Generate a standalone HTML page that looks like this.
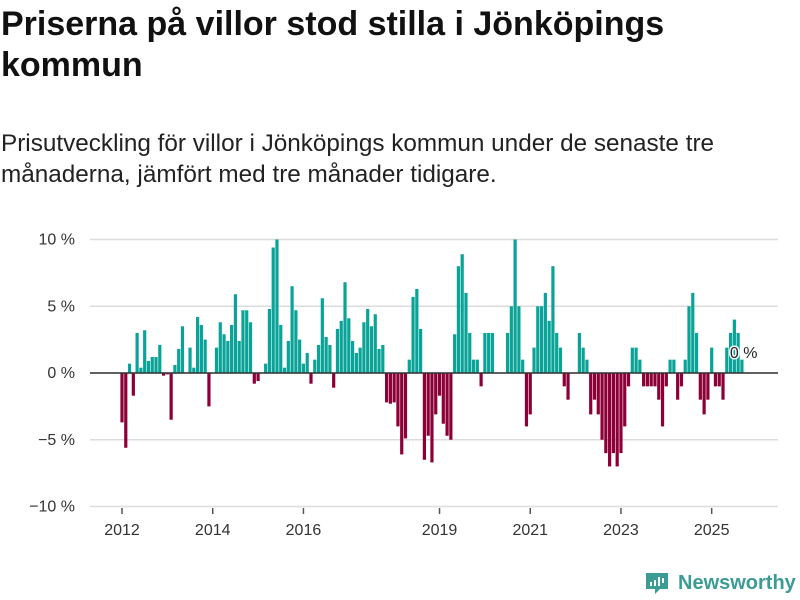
<!DOCTYPE html>
<html><head><meta charset="utf-8"><style>
body{margin:0;width:800px;height:600px;background:#fff;font-family:"Liberation Sans",sans-serif;overflow:hidden;position:relative}
h1{position:absolute;left:1px;top:4px;margin:0;font-size:34px;line-height:41px;font-weight:bold;color:#111;width:700px}
p.sub{position:absolute;left:1px;top:128px;margin:0;font-size:24.3px;line-height:31px;color:#222;width:760px}
svg{position:absolute;left:0;top:0}
</style></head><body>
<h1>Priserna på villor stod stilla i Jönköpings kommun</h1>
<p class="sub">Prisutveckling för villor i Jönköpings kommun under de senaste tre<br>månaderna, jämfört med tre månader tidigare.</p>
<svg id="chart" width="800" height="600"></svg>
<script>
const startYear = 2012;
const values = [
-3.7,-5.6,0.7,-1.7,3.0,0.4,3.2,0.9,1.2,1.2,2.1,-0.2,-0.1,-3.5,0.6,1.8,3.5,0,1.9,0.4,4.2,3.6,2.5,-2.5,
0,1.9,3.8,2.9,2.4,3.6,5.9,2.4,4.7,4.7,3.8,-0.8,-0.6,0,0.7,4.8,9.4,10.0,3.6,0.4,2.4,6.5,4.7,2.5,
0.7,1.5,-0.8,1.0,2.1,5.6,2.7,2.1,-1.1,3.3,3.9,6.8,4.1,2.4,1.5,1.9,3.8,4.8,3.5,4.4,1.8,2.1,
-2.2,-2.3,-2.2,-4.0,-6.1,-4.9,1.0,5.7,6.3,3.3,-6.5,-4.7,-6.7,-3.1,-1.7,-3.8,-4.7,-5.0,
2.9,8.0,8.9,6.0,3.0,1.0,1.0,-1.0,3.0,3.0,3.0,0,0,0,3.0,5.0,10.0,5.0,1.0,-4.0,-3.1,1.9,5.0,5.0,6.0,3.9,8.0,3.0,1.9,-1.0,-2.0,0,0,
3.0,1.9,1.0,-3.1,-2.0,-3.1,-5.0,-6.0,-7.0,-6.0,-7.0,-6.0,-4.0,-1.0,1.9,1.9,1.0,-1.0,-1.0,-1.0,-1.0,-2.0,-4.0,-1.0,
1.0,1.0,-2.0,-1.0,1.0,5.0,6.0,3.0,-2.0,-3.1,-2.0,1.9,-1.0,-1.0,-2.0,1.9,3.0,4.0,3.0,1.0];
const yTicks = [10,5,0,-5,-10];
const yTickLabels = ["10 %","5 %","0 %","−5 %","−10 %"];
const xTickYears = [2012,2014,2016,2019,2021,2023,2025];
const lastLabel = "0 %";

const NS="http://www.w3.org/2000/svg";
const svg=document.getElementById('chart');
const X0=122, PX_MONTH=3.78, Y0=373, PX_PCT=13.35;
const xScale = i => X0 + i*PX_MONTH;
const yScale = v => Y0 - v*PX_PCT;
function mk(t,a){const e=document.createElementNS(NS,t);for(const k in a)e.setAttribute(k,a[k]);svg.appendChild(e);return e;}
yTicks.forEach((t,k)=>{
  const g=mk('line',{x1:90,x2:778,y1:yScale(t),y2:yScale(t),stroke:'#dcdcdc','stroke-width':1.5});
  
  
  const l=mk('text',{x:75,y:yScale(t)+5,'text-anchor':'end','font-size':16,fill:'#333','font-family':'Liberation Sans, sans-serif'});
  l.textContent=yTickLabels[k];
  
  
});
values.forEach((v,i)=>{
  const y=v>=0?yScale(v):Y0, h=Math.abs(yScale(v)-Y0);
  const b=mk('rect',{x:xScale(i)-1.6,y:y,width:3.2,height:h,fill:v>=0?'#0aa398':'#8c0037'});
  
  
});
const zl=mk('line',{x1:90,x2:778,y1:Y0,y2:Y0,stroke:'#333','stroke-width':1.5});


xTickYears.forEach(yr=>{
  const x=xScale((yr-startYear)*12);
  const t=mk('line',{x1:x,x2:x,y1:508,y2:514,stroke:'#555','stroke-width':1.5});
  
  
  const l=mk('text',{x:x,y:535,'text-anchor':'middle','font-size':16,fill:'#333','font-family':'Liberation Sans, sans-serif'});
  l.textContent=yr;
  
  
});
const li=values.length-1;
const ll=mk('text',{x:xScale(li)-12,y:358,'font-size':16,fill:'#222',stroke:'#fff','stroke-width':3,'paint-order':'stroke','font-family':'Liberation Sans, sans-serif'});
ll.textContent=lastLabel;


</script>
<svg width="800" height="600" style="pointer-events:none">
<path d="M646 573h22v16h-8l-5 5v-5h-9z" fill="#3a9c94"/>
<rect x="650" y="582" width="2" height="4" fill="#fff"/><rect x="654" y="580" width="2" height="6" fill="#fff"/><rect x="658" y="577" width="2" height="9" fill="#fff"/><rect x="662" y="578" width="2" height="5" fill="#fff"/>
<text x="678" y="589" font-size="20" font-weight="bold" fill="#3a9c94" font-family="Liberation Sans, sans-serif">Newsworthy</text>
</svg>
</body></html>
